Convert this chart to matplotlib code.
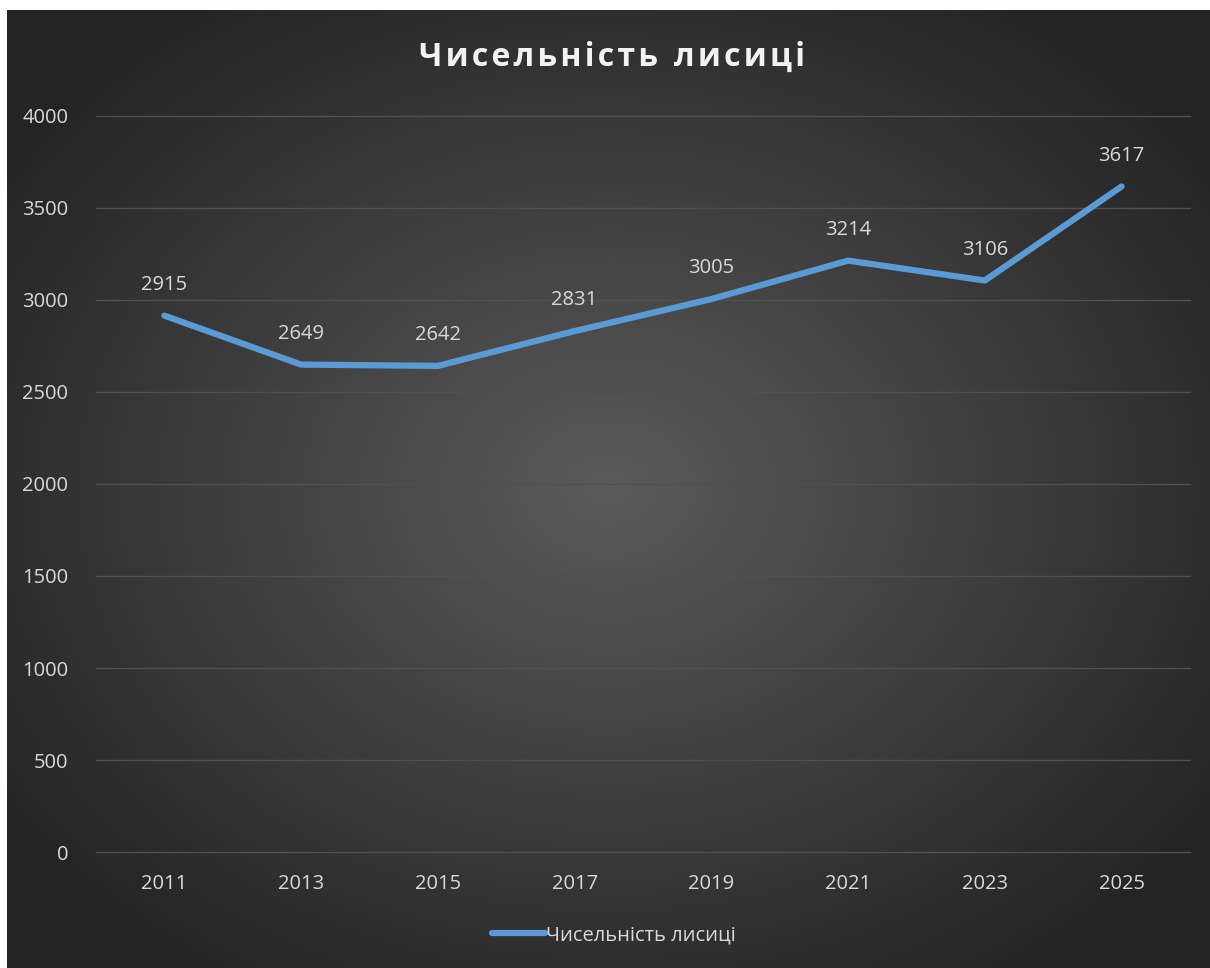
# Чисельність лисиці по роках — лінійний графік у стилі Excel (темна тема)
import matplotlib.pyplot as plt
import numpy as np

plt.rcParams['font.family'] = ['Open Sans', 'DejaVu Sans']

years = ["2011", "2013", "2015", "2017", "2019", "2021", "2023", "2025"]
foxes = [2915, 2649, 2642, 2831, 3005, 3214, 3106, 3617]
y_ticks = [0, 500, 1000, 1500, 2000, 2500, 3000, 3500, 4000]

W, H = 1210, 968
fig = plt.figure(figsize=(W / 100, H / 100), dpi=100, facecolor="white")

# радіальний градієнт фону
bg = fig.add_axes([7 / W, 0, (W - 7) / W, (H - 10) / H])
gx, gy = np.meshgrid(np.linspace(-1, 1, 600), np.linspace(-1, 1, 480))
r = np.clip(np.sqrt(gx ** 2 + gy ** 2) / 1.2, 0, 1)
shade = 0.355 - 0.21 * r
bg.imshow(np.dstack([shade, shade, shade]), aspect="auto", extent=(0, 1, 0, 1))
bg.set_axis_off()

ax = fig.add_axes([96 / W, 1 - 852 / H, (1190 - 96) / W, (852 - 116) / H])
ax.patch.set_alpha(0)
x = np.arange(len(years))
ax.plot(x, foxes, color="#5b9bd5", lw=4.5, solid_capstyle="round", solid_joinstyle="round",
        label="Чисельність лисиці")
for xi, v in zip(x, foxes):
    ax.annotate(str(v), (xi, v), xytext=(0, 15), textcoords="offset points",
                ha="center", va="bottom", color="#d9d9d9", fontsize=14.5)

ax.set_xlim(-0.5, len(years) - 0.5)
ax.set_ylim(0, 4000)
ax.set_yticks(y_ticks)
ax.set_xticks(x)
ax.set_xticklabels(years)
ax.grid(axis="y", color="#505050", lw=1)
for gl in ax.get_ygridlines():
    gl.set_clip_on(False)
ax.set_axisbelow(True)
ax.tick_params(colors="#d9d9d9", labelsize=14.5, length=0)
ax.tick_params(axis="y", pad=20)
ax.tick_params(axis="x", pad=16)
for s in ax.spines.values():
    s.set_visible(False)

fig.text(612 / W, 1 - 57 / H, "Ч и с е л ь н і с т ь   л и с и ц і".replace("   ", "\u2002").replace(" ", "\u200a"),
         ha="center", va="center", color="#f2f2f2", fontsize=23, fontweight="bold")

leg = fig.legend(loc="center", bbox_to_anchor=(614 / W, 1 - 935 / H), frameon=False,
                 fontsize=14.5, labelcolor="#d9d9d9", handlelength=2.6, handletextpad=0.05)

plt.savefig("out.png", dpi=100, facecolor="white")
